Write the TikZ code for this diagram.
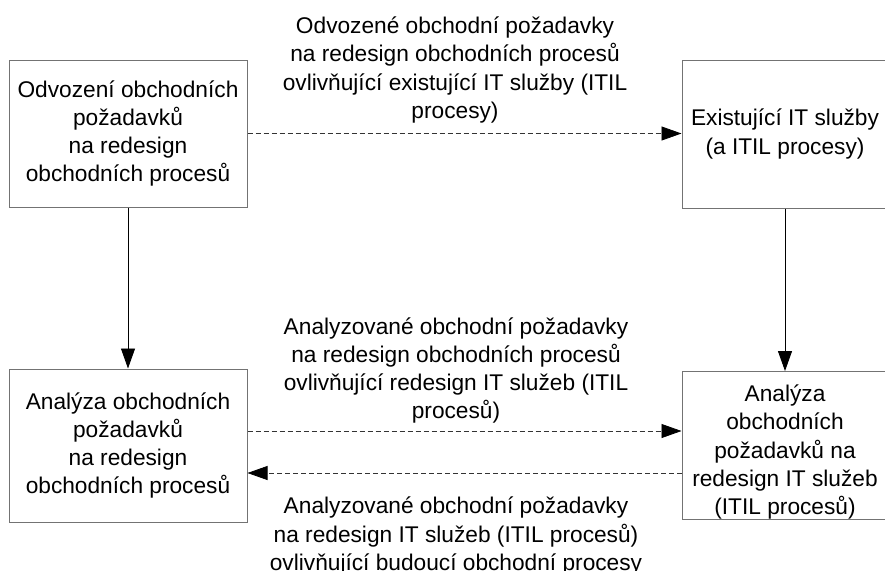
\documentclass[tikz,border=0pt]{standalone}
\usepackage{fontspec}
\setmainfont{Liberation Sans}
\usetikzlibrary{arrows.meta}
\begin{document}
\begin{tikzpicture}[x=1pt,y=-1pt,
  box/.style={draw=black!55,line width=1pt,align=center,inner sep=0pt},
  lbl/.style={align=center,inner sep=0pt},
  solidarr/.style={line width=0.9pt,-{Triangle[length=20pt,width=14pt]}},
  dasharr/.style={draw=black!80,line width=0.8pt,dash pattern=on 5pt off 3pt,-{Triangle[length=20pt,width=14pt,color=black]}},
  every node/.style={font=\fontsize{22.7}{28.3}\selectfont}]
\useasboundingbox (0,0) rectangle (885,570);
\fill[white] (0,0) rectangle (885,570);
\node[box,minimum width=238pt,minimum height=147pt] (A) at (128,133.5)
  {Odvození obchodních\\požadavků\\na redesign\\obchodních procesů};
\node[box,minimum width=206pt,minimum height=148pt] (B) at (785,134)
  {Existující IT služby\\(a ITIL procesy)};
\node[box,minimum width=238pt,minimum height=153pt] (C) at (128,445.5)
  {Analýza obchodních\\požadavků\\na redesign\\obchodních procesů};
\node[box,minimum width=206pt,minimum height=147pt] (D) at (785,445.5)
  {\rule{0pt}{30pt}Analýza\\obchodních\\požadavků na\\redesign IT služeb\\(ITIL procesů)};
\node[lbl] (L1) at (455,70)
  {Odvozené obchodní požadavky\\na redesign obchodních procesů\\ovlivňující existující IT služby (ITIL\\procesy)};
\node[lbl] (L2) at (456,370.5)
  {Analyzované obchodní požadavky\\na redesign obchodních procesů\\ovlivňující redesign IT služeb (ITIL\\procesů)};
\node[lbl] (L3) at (456,536)
  {Analyzované obchodní požadavky\\na redesign IT služeb (ITIL procesů)\\ovlivňující budoucí obchodní procesy};
\draw[dasharr] (A.east) -- (A.east -| B.west);
\draw[solidarr] (A.south) -- (C.north);
\draw[solidarr] (B.south) -- (D.north);
\draw[dasharr] ([yshift=14.5pt]C.east) -- ([yshift=14.5pt]C.east -| D.west);
\draw[dasharr] ([yshift=-27.5pt]D.west) -- ([yshift=-27.5pt]D.west -| C.east);
\end{tikzpicture}
\end{document}
